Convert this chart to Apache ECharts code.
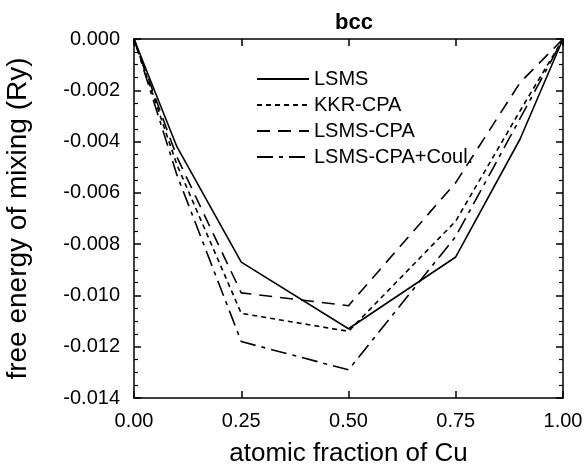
<!DOCTYPE html>
<html>
<head>
<meta charset="utf-8">
<script src="https://cdn.jsdelivr.net/npm/echarts@6/dist/echarts.min.js"></script>
<style>
  html, body { margin: 0; padding: 0; background: #fff; }
  #chart { width: 587px; height: 468px; }
</style>
</head>
<body>
<div id="chart"></div>
<script>
// atomic fraction of Cu
const xs = [0, 0.1, 0.25, 0.5, 0.75, 0.9, 1.0];
// free energy of mixing (Ry)
const lsms = [0, -0.0042, -0.0087, -0.0113, -0.0085, -0.0039, 0];
const kkrCpa = [0, -0.0049, -0.0107, -0.0114, -0.0071, -0.0028, 0];
const lsmsCpa = [0, -0.0046, -0.0099, -0.0104, -0.0056, -0.0017, 0];
const lsmsCpaCoul = [0, -0.0053, -0.0118, -0.0129, -0.0077, -0.0031, 0];
const seriesNames = ['LSMS', 'KKR-CPA', 'LSMS-CPA', 'LSMS-CPA+Coul.'];

const font = 'Liberation Sans, Arial, Helvetica, sans-serif';
const pairs = (ys) => xs.map((x, i) => [x, ys[i]]);

const myChart = echarts.init(document.getElementById('chart'));

const axisLine = { show: true, onZero: false, lineStyle: { color: '#000', width: 1.5 } };
const tick = { inside: true, length: 7, lineStyle: { color: '#000', width: 1.5 } };
const minor = { show: true, splitNumber: 4, length: 4, lineStyle: { color: '#000', width: 1.2 } };

const mkSeries = (name, ys, type) => ({
  name: name,
  type: 'line',
  data: pairs(ys),
  symbol: 'none',
  showSymbol: false,
  lineStyle: { color: '#000', width: 1.6, type: type },
  itemStyle: { color: '#000' },
});

const options = {
  animation: false,
  title: {
    text: 'bcc',
    left: 349,
    top: 7,
    textAlign: 'center',
    textStyle: { fontFamily: font, fontSize: 22, fontWeight: 'bold', color: '#000' },
  },
  grid: { left: 134, right: 24, top: 39, bottom: 70, containLabel: false, outerBoundsMode: 'none' },
  legend: {
    orient: 'vertical',
    left: 251,
    top: 64,
    itemWidth: 52,
    itemHeight: 14,
    itemGap: 6,
    data: seriesNames,
    itemStyle: { opacity: 0, borderWidth: 0 },
    textStyle: { fontFamily: font, fontSize: 20, color: '#000' },
  },
  xAxis: [
    {
      type: 'value',
      min: 0,
      max: 1,
      interval: 0.25,
      name: 'atomic fraction of Cu',
      nameLocation: 'middle',
      nameGap: 43,
      nameTextStyle: { fontFamily: font, fontSize: 26, color: '#000' },
      axisLine: axisLine,
      axisTick: tick,
      axisLabel: {
        margin: 13,
        fontFamily: font,
        fontSize: 20,
        color: '#000',
        formatter: (v) => v.toFixed(2),
      },
      splitLine: { show: false },
    },
    {
      type: 'value',
      position: 'top',
      min: 0,
      max: 1,
      interval: 0.25,
      axisLine: axisLine,
      axisTick: tick,
      axisLabel: { show: false },
      splitLine: { show: false },
    },
  ],
  yAxis: [
    {
      type: 'value',
      min: -0.014,
      max: 0,
      interval: 0.002,
      name: 'free energy of mixing (Ry)',
      nameLocation: 'middle',
      nameGap: 102,
      nameTextStyle: { fontFamily: font, fontSize: 28, color: '#000' },
      axisLine: axisLine,
      axisTick: tick,
      minorTick: minor,
      axisLabel: {
        margin: 14,
        fontFamily: font,
        fontSize: 20,
        color: '#000',
        formatter: (v) => v.toFixed(3),
      },
      splitLine: { show: false },
    },
    {
      type: 'value',
      position: 'right',
      min: -0.014,
      max: 0,
      interval: 0.002,
      axisLine: axisLine,
      axisTick: tick,
      minorTick: minor,
      axisLabel: { show: false },
      splitLine: { show: false },
    },
  ],
  series: [
    mkSeries(seriesNames[0], lsms, 'solid'),
    mkSeries(seriesNames[1], kkrCpa, [5, 4]),
    mkSeries(seriesNames[2], lsmsCpa, [13, 8]),
    mkSeries(seriesNames[3], lsmsCpaCoul, [16, 6, 4, 6]),
  ],
};
myChart.setOption(options);
</script>
</body>
</html>
